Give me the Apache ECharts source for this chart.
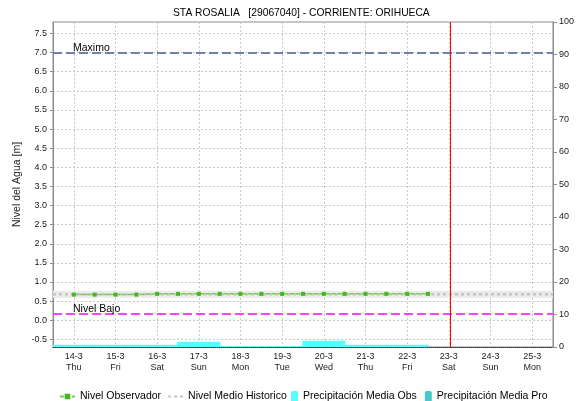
<!DOCTYPE html>
<html>
<head>
<meta charset="utf-8">
<script src="https://cdn.jsdelivr.net/npm/echarts@6/dist/echarts.min.js"></script>
<style>
  html, body { margin: 0; padding: 0; background: #ffffff; }
  #chart { width: 577px; height: 401px; }
</style>
</head>
<body>
<div id="chart"></div>
<script>
// Days shown on the time axis (day index 0 = 14-3)
const dayLabels = ['14-3', '15-3', '16-3', '17-3', '18-3', '19-3', '20-3', '21-3', '22-3', '23-3', '24-3', '25-3'];
const weekdayLabels = ['Thu', 'Fri', 'Sat', 'Sun', 'Mon', 'Tue', 'Wed', 'Thu', 'Fri', 'Sat', 'Sun', 'Mon'];
const dayTicks = [0, 1, 2, 3, 4, 5, 6, 7, 8, 9, 10, 11];

// Water level axis ticks [m]
const levelTicks = [-0.5, 0.0, 0.5, 1.0, 1.5, 2.0, 2.5, 3.0, 3.5, 4.0, 4.5, 5.0, 5.5, 6.0, 6.5, 7.0, 7.5];

// Observed water level, one reading every half day starting 14-3
const obsStepDays = 0.5;
const obsLevel = [0.67, 0.67, 0.67, 0.67, 0.69, 0.69, 0.69, 0.69, 0.69,
                  0.69, 0.69, 0.69, 0.69, 0.69, 0.69, 0.69, 0.69, 0.69];

// Reference levels [m]
const histLevel = 0.68;   // Nivel Medio Historico
const maxLevel = 7.0;     // Maximo
const lowLevel = 0.17;    // Nivel Bajo

// Current time marker (days from 14-3)
const nowMark = 9.04;

// Daily mean precipitation (right axis), observed and forecast
const precipObs = [0.7, 0.7, 0.7, 1.6, 0.3, 0.3, 1.9, 0.7, 0.7];
const precipPro = [];

const X_MIN = -0.5, X_MAX = 11.5;
const Y_MIN = -0.7, Y_MAX = 7.8;
const FONT = "'Liberation Sans', Arial, sans-serif";

const chart = echarts.init(document.getElementById('chart'), null, { renderer: 'canvas' });

const gridLine = { show: true, lineStyle: { color: '#c8c8c8', type: [2, 2], width: 1 } };
const refLabel = { show: true, position: 'insideStartTop', distance: [20, -1], color: '#000', fontSize: 10.5, fontFamily: FONT };

chart.setOption({
  animation: false,
  backgroundColor: '#ffffff',
  textStyle: { fontFamily: FONT },
  title: {
    text: 'STA ROSALIA   [29067040] - CORRIENTE: ORIHUECA',
    left: 168,
    top: 3,
    textStyle: { fontSize: 10.3, fontWeight: 'normal', color: '#000', fontFamily: FONT }
  },
  grid: {
    left: 53, right: 24, top: 22, bottom: 54,
    show: true, borderColor: '#8c8c8c', borderWidth: 1, backgroundColor: 'transparent'
  },
  legend: [
    {
      data: [
        { name: 'Nivel Observador' },
        { name: 'Nivel Medio Historico', itemStyle: { opacity: 0 } }
      ],
      left: 54, top: 386,
      itemWidth: 15, itemHeight: 7, itemGap: 6,
      textStyle: { fontSize: 10.5, color: '#000', fontFamily: FONT }
    },
    {
      data: ['Precipitación Media Obs', 'Precipitación Media Pro'],
      left: 286, top: 386,
      itemWidth: 7, itemHeight: 11, itemGap: 8,
      textStyle: { fontSize: 10.5, color: '#000', fontFamily: FONT }
    }
  ],
  xAxis: {
    type: 'value',
    min: X_MIN, max: X_MAX,
    axisLine: { show: true, onZero: false, lineStyle: { color: '#333', type: [1, 1], width: 1 } },
    axisTick: { show: false, customValues: dayTicks },
    axisLabel: {
      customValues: dayTicks,
      formatter: v => dayLabels[v] + '\n' + weekdayLabels[v],
      fontSize: 9, lineHeight: 11, color: '#222', margin: 4, fontFamily: FONT
    },
    splitLine: gridLine
  },
  yAxis: [
    {
      type: 'value',
      min: Y_MIN, max: Y_MAX,
      position: 'left',
      name: 'Nivel del Agua [m]',
      nameLocation: 'middle',
      nameGap: 30,
      nameMoveOverlap: false,
      nameTextStyle: { fontSize: 10.5, color: '#222', fontFamily: FONT },
      axisLine: { show: true, onZero: false, lineStyle: { color: '#8c8c8c' } },
      axisTick: { show: true, length: 3, customValues: levelTicks, lineStyle: { color: '#8c8c8c' } },
      axisLabel: {
        customValues: levelTicks,
        formatter: v => v.toFixed(1),
        fontSize: 9, color: '#222', margin: 6, fontFamily: FONT
      },
      splitLine: gridLine
    },
    {
      type: 'value',
      min: 0, max: 100, interval: 10,
      position: 'right',
      axisLine: { show: true, onZero: false, lineStyle: { color: '#8c8c8c' } },
      axisTick: { show: true, length: 4, lineStyle: { color: '#8c8c8c' } },
      axisLabel: { fontSize: 9, color: '#222', margin: 6, fontFamily: FONT },
      splitLine: { show: false }
    }
  ],
  series: [
    {
      name: 'Precipitación Media Obs',
      type: 'bar',
      xAxisIndex: 0, yAxisIndex: 1,
      barWidth: 43,
      barGap: '-100%',
      itemStyle: { color: '#55ffff' },
      data: precipObs.map((v, i) => [i, v]),
      z: 1
    },
    {
      name: 'Precipitación Media Pro',
      type: 'bar',
      xAxisIndex: 0, yAxisIndex: 1,
      barWidth: 43,
      barGap: '-100%',
      itemStyle: { color: '#44c8c8' },
      data: precipPro.map((v, i) => [i, v]),
      z: 1
    },
    {
      // soft band behind the historic mean level, plus the reference levels
      name: 'histBand',
      type: 'line',
      silent: true,
      symbol: 'none',
      lineStyle: { color: '#ebebeb', width: 7 },
      data: [[X_MIN, histLevel], [X_MAX, histLevel]],
      z: 2,
      markLine: {
        silent: true,
        symbol: ['none', 'none'],
        animation: false,
        data: [
          {
            yAxis: maxLevel,
            lineStyle: { color: '#7282a6', type: [9, 4], width: 2 },
            label: Object.assign({ formatter: 'Maximo' }, refLabel)
          },
          {
            yAxis: lowLevel,
            lineStyle: { color: '#ff40ff', type: [9, 4], width: 2 },
            label: Object.assign({ formatter: 'Nivel Bajo' }, refLabel)
          }
        ]
      }
    },
    {
      // vertical marker for the current time, spanning the level axis
      name: 'ahora',
      type: 'line',
      silent: true,
      symbol: 'none',
      lineStyle: { color: '#ff0000', width: 1, type: 'solid' },
      itemStyle: { color: '#ff0000' },
      data: [[nowMark, Y_MIN], [nowMark, Y_MAX]],
      z: 5
    },
    {
      name: 'Nivel Medio Historico',
      type: 'line',
      symbol: 'none',
      lineStyle: { color: '#c4c4c4', width: 2.5, type: [3, 3] },
      itemStyle: { color: '#c4c4c4' },
      data: [[X_MIN, histLevel], [X_MAX, histLevel]],
      z: 3
    },
    {
      name: 'Nivel Observador',
      type: 'line',
      symbol: 'rect',
      symbolSize: 4,
      lineStyle: { color: '#72d048', width: 1.5, type: [4, 2] },
      itemStyle: { color: '#44b81e' },
      data: obsLevel.map((v, i) => [i * obsStepDays, v]),
      z: 4
    }
  ]
});
</script>
</body>
</html>
